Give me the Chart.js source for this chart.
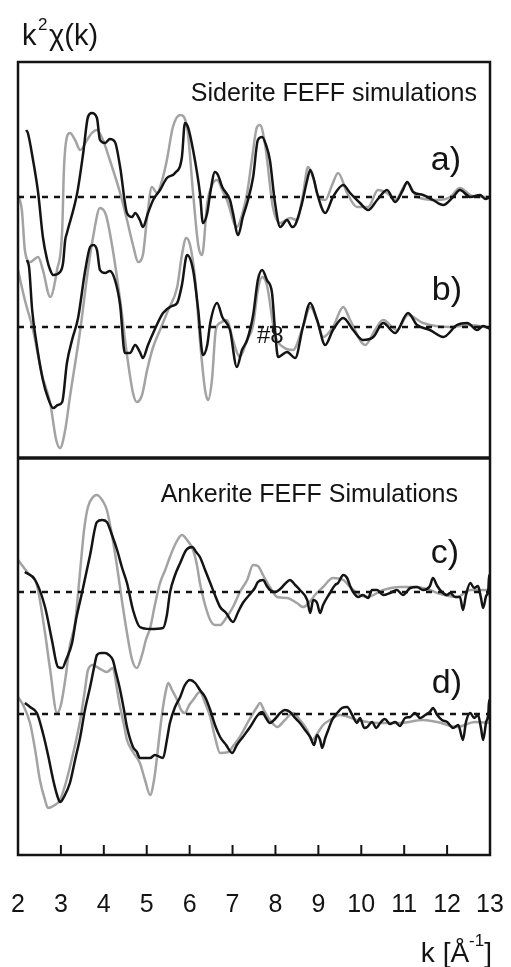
<!DOCTYPE html>
<html><head><meta charset="utf-8">
<script src="https://cdn.jsdelivr.net/npm/chart.js@4.4.1/dist/chart.umd.min.js"></script>
<style>html,body{margin:0;padding:0;background:#fff;}#wrap{width:511px;height:967px;position:relative;}</style>
</head><body><div id="wrap"><canvas id="c"></canvas></div>
<script>
// ---- axis ----
const kMin = 2, kMax = 13;
const kTicks = [2,3,4,5,6,7,8,9,10,11,12,13];
const tickLabels = ['2','3','4','5','6','7','8','9','10','11','12','13'];
// vertical offsets of each stacked spectrum (arbitrary units)
const yMax = 79.3;
const offsetA = 65.8, offsetB = 52.8, offsetC = 26.3, offsetD = 14.1;
const panelDivider = 39.7;

// ---- a) Siderite: black (data) ----
const kA_black = [2.19,2.23,2.35,2.47,2.58,2.68,2.75,2.82,2.98,3.05,3.10,3.14,3.38,3.52,3.63,3.72,3.84,3.91,4.03,4.14,4.26,4.38,4.54,4.66,4.73,4.84,4.91,5.03,5.15,5.31,5.47,5.66,5.82,5.89,5.96,6.08,6.24,6.31,6.41,6.48,6.59,6.66,6.76,6.94,7.01,7.13,7.24,7.36,7.48,7.59,7.69,7.78,7.87,7.99,8.11,8.27,8.39,8.46,8.62,8.74,8.81,8.90,8.97,9.16,9.34,9.58,9.74,9.97,10.16,10.37,10.60,10.79,10.97,11.07,11.21,11.44,11.67,11.91,12.14,12.30,12.54,12.77,12.89,13.00];
const chiA_black = [6.7,6.4,3.7,0.4,-4.0,-6.3,-7.3,-7.8,-7.5,-6.6,-4.3,-3.6,0.4,4.4,8.0,8.4,7.9,5.7,5.4,5.8,5.5,3.0,-1.6,-2.0,-1.6,-2.3,-3.0,-1.6,-0.3,0.7,1.9,2.4,4.0,7.4,7.0,4.7,0.4,-2.6,-1.6,0.4,2.5,2.2,1.0,-0.3,-1.6,-3.8,-2.0,-0.3,2.0,5.7,6.0,5.2,3.7,-0.6,-3.0,-2.3,-3.0,-2.8,-0.6,1.7,2.7,1.7,0.4,-1.6,0.0,1.2,0.4,-0.6,-1.3,-0.3,0.7,-0.5,0.7,1.5,0.5,0.2,-0.3,-0.8,0.0,0.7,0.0,0.2,-0.2,0.0];
// ---- a) Siderite: gray (simulation) ----
const kA_gray = [2.00,2.09,2.16,2.28,2.47,2.58,2.75,2.91,3.03,3.07,3.14,3.21,3.33,3.45,3.61,3.72,3.84,3.98,4.14,4.38,4.54,4.68,4.80,4.91,5.01,5.12,5.24,5.36,5.47,5.61,5.78,5.94,6.08,6.20,6.29,6.41,6.52,6.64,6.76,6.87,7.10,7.22,7.34,7.45,7.57,7.64,7.76,7.94,8.11,8.34,8.50,8.64,8.76,8.88,9.00,9.16,9.32,9.46,9.67,9.90,10.16,10.39,10.60,10.79,11.07,11.30,11.77,12.07,12.30,12.58,13.00];
const chiA_gray = [0.2,-1.3,-5.3,-6.5,-6.0,-7.3,-10.0,-7.3,-3.3,2.7,6.0,6.4,5.7,4.7,5.7,6.4,6.7,5.7,3.7,0.4,-2.3,-4.8,-6.5,-5.8,-2.0,1.0,0.4,1.7,3.7,7.0,8.2,7.0,0.4,-4.8,-5.8,-0.6,1.2,1.7,0.7,-0.3,-3.0,-1.8,0.4,3.7,7.0,7.2,5.2,-1.0,-2.6,-2.1,-2.3,0.2,3.0,1.9,0.0,-0.3,1.2,2.4,0.4,-1.0,-1.0,0.7,0.4,-0.3,1.4,0.0,-0.3,0.0,0.9,0.1,0.0];

// ---- b) Siderite ----
const kB_black = [2.21,2.26,2.33,2.42,2.58,2.70,2.82,2.93,3.03,3.14,3.26,3.40,3.56,3.68,3.75,3.84,3.91,4.03,4.14,4.26,4.38,4.49,4.61,4.73,4.84,4.91,5.03,5.15,5.38,5.59,5.71,5.82,5.94,6.08,6.20,6.31,6.41,6.48,6.64,6.76,6.94,7.10,7.22,7.34,7.48,7.59,7.69,7.80,7.92,7.99,8.06,8.27,8.46,8.64,8.81,8.97,9.16,9.34,9.58,9.81,10.04,10.28,10.51,10.79,11.09,11.30,11.60,11.91,12.23,12.47,12.70,12.84,13.00];
const chiB_black = [6.7,5.9,1.7,-1.3,-5.3,-7.1,-8.1,-7.8,-7.5,-3.6,-1.3,0.9,5.5,8.0,8.2,7.7,5.7,5.4,5.6,4.7,2.2,-2.6,-2.6,-1.8,-2.5,-3.1,-1.8,-0.6,1.4,2.1,2.4,4.2,7.2,5.7,1.7,-2.8,-1.8,0.4,2.4,1.0,-0.3,-4.0,-2.3,-1.3,1.2,4.7,5.7,4.7,3.4,-0.3,-3.0,-2.5,-3.1,0.0,2.4,0.7,-1.8,-0.3,0.9,-0.3,-1.3,-1.0,0.4,-0.6,1.4,0.2,-0.3,-1.0,0.2,0.4,-0.3,0.1,-0.2];
const kB_gray = [2.00,2.16,2.35,2.56,2.75,2.89,2.98,3.10,3.21,3.45,3.63,3.75,3.91,4.05,4.21,4.38,4.54,4.68,4.77,4.89,5.01,5.15,5.31,5.50,5.71,5.82,5.92,6.01,6.13,6.24,6.36,6.43,6.52,6.61,6.71,6.87,7.01,7.17,7.34,7.48,7.59,7.69,7.80,7.99,8.18,8.41,8.64,8.81,8.97,9.11,9.34,9.58,9.74,10.09,10.32,10.51,10.83,11.09,11.44,12.07,12.54,13.00];
const chiB_gray = [5.7,2.7,-0.3,-4.8,-7.6,-11.3,-12.1,-10.3,-7.0,-0.3,5.7,9.0,11.9,11.2,7.7,2.7,-2.8,-6.6,-7.5,-6.8,-4.3,-2.0,-0.3,1.7,4.0,7.2,8.9,8.2,4.7,-1.3,-6.3,-7.3,-5.3,-0.3,0.4,0.7,-1.3,-3.0,-1.3,0.2,3.7,5.0,4.2,-0.8,-2.0,-2.3,0.0,2.0,0.7,-1.0,0.0,2.0,0.7,-1.8,-0.3,0.7,-0.3,1.2,0.4,0.0,0.2,-0.1];

// ---- c) Ankerite ----
const kC_black = [2.16,2.40,2.63,2.79,2.93,3.03,3.12,3.26,3.35,3.49,3.68,3.84,3.96,4.07,4.19,4.31,4.42,4.54,4.68,4.84,5.08,5.38,5.47,5.54,5.66,5.78,5.92,6.06,6.15,6.24,6.36,6.48,6.59,6.71,6.85,7.01,7.13,7.24,7.41,7.52,7.59,7.71,7.80,7.87,7.99,8.11,8.22,8.34,8.46,8.57,8.74,8.81,8.88,8.97,9.04,9.11,9.27,9.39,9.46,9.58,9.67,9.74,9.81,9.93,10.04,10.16,10.25,10.37,10.51,10.67,10.83,10.97,11.14,11.30,11.44,11.60,11.67,11.77,11.88,12.00,12.07,12.19,12.30,12.37,12.44,12.54,12.63,12.72,12.79,12.84,12.91,12.96,12.98,13.00];
const chiC_black = [2.0,1.2,-1.5,-4.8,-7.5,-7.6,-6.8,-5.1,-2.8,-0.1,3.7,7.0,7.2,7.0,5.7,4.2,2.5,0.9,-1.8,-3.5,-3.7,-3.6,-2.3,-0.1,1.7,2.9,4.2,4.5,4.0,3.5,2.2,0.9,-0.3,-1.5,-2.1,-3.0,-2.0,-1.1,-0.2,0.4,1.0,1.2,0.6,0.2,0.0,0.3,0.8,1.2,0.7,0.2,-0.8,-2.1,-0.8,-1.1,-2.1,-1.3,-0.1,0.7,0.9,1.7,1.4,0.6,0.0,-0.5,-0.3,-0.6,0.2,0.2,-0.3,-0.1,0.2,-0.3,0.4,0.5,0.2,0.6,1.4,0.6,0.0,-0.3,-0.1,-0.5,-0.5,-1.8,-0.3,0.9,0.4,0.6,-0.6,-1.6,-0.4,0.2,1.7,-0.5];
const kC_gray = [2.00,2.23,2.44,2.63,2.75,2.91,3.00,3.10,3.21,3.33,3.45,3.54,3.63,3.75,3.84,3.96,4.07,4.19,4.31,4.42,4.54,4.66,4.77,4.89,4.98,5.08,5.19,5.31,5.43,5.54,5.68,5.82,5.94,6.08,6.17,6.24,6.36,6.48,6.59,6.71,6.85,7.01,7.17,7.34,7.48,7.59,7.71,7.87,8.04,8.27,8.50,8.64,8.76,8.92,9.11,9.34,9.58,9.74,9.90,10.14,10.51,10.90,11.30,11.60,11.77,12.23,12.54,12.77,13.00];
const chiC_gray = [3.2,1.9,0.7,-4.1,-7.8,-12.1,-11.3,-8.8,-5.3,-3.1,2.2,6.2,8.5,9.5,9.7,9.2,8.2,5.7,2.5,-0.8,-4.1,-6.8,-7.6,-6.3,-4.8,-3.6,-1.3,0.9,2.2,3.5,4.9,5.7,5.2,4.2,2.7,0.9,-1.3,-2.8,-3.3,-3.3,-2.6,-1.5,0.0,1.2,2.7,2.6,1.7,0.5,-0.5,-0.6,-1.1,-1.5,-1.2,-0.3,0.5,1.4,1.2,0.5,-0.1,-0.5,0.2,0.5,0.5,0.2,-0.1,-0.5,0.2,0.2,0.2];

// ---- d) Ankerite ----
const kD_black = [2.16,2.28,2.44,2.58,2.70,2.82,2.91,2.98,3.07,3.21,3.33,3.45,3.56,3.68,3.77,3.84,3.93,4.03,4.12,4.21,4.28,4.38,4.47,4.54,4.68,4.77,4.84,5.08,5.19,5.38,5.47,5.54,5.66,5.78,5.89,6.01,6.13,6.24,6.36,6.48,6.59,6.71,6.85,6.99,7.10,7.24,7.41,7.59,7.69,7.78,7.87,7.99,8.11,8.22,8.34,8.46,8.57,8.69,8.81,8.90,8.97,9.04,9.09,9.16,9.23,9.32,9.44,9.55,9.67,9.79,9.90,9.97,10.07,10.14,10.25,10.35,10.44,10.55,10.67,10.79,10.90,11.02,11.14,11.25,11.37,11.49,11.60,11.67,11.77,11.88,12.00,12.14,12.26,12.37,12.44,12.54,12.63,12.72,12.79,12.84,12.91,12.96,12.98,13.00];
const chiD_black = [1.1,0.7,0.1,-1.9,-4.1,-6.6,-8.1,-8.8,-8.3,-6.9,-4.6,-2.3,0.4,2.7,4.6,5.9,6.1,6.1,5.9,5.4,4.2,2.4,0.4,-1.3,-3.3,-3.8,-4.4,-4.4,-4.1,-4.4,-2.6,-0.9,0.7,1.7,2.9,3.4,3.1,2.4,1.7,0.4,-1.1,-2.3,-3.1,-3.9,-3.1,-2.3,-1.3,-0.1,0.2,-0.4,-0.9,-0.5,0.1,0.4,0.2,-0.4,-0.9,-1.6,-2.3,-3.1,-2.1,-2.6,-3.4,-2.4,-1.6,-0.6,0.1,0.6,0.7,-0.1,-0.9,-0.4,-1.4,-1.3,-0.8,-1.4,-0.9,-0.5,-1.0,-0.8,-1.2,-0.4,-0.3,0.1,-0.4,-0.1,0.2,0.6,-0.1,-0.6,-0.8,-1.4,-1.1,-2.6,-0.8,0.1,-0.4,-0.1,-1.4,-2.6,-0.8,0.0,1.4,-0.8];
const kD_gray = [2.00,2.12,2.28,2.40,2.51,2.63,2.70,2.82,2.98,3.10,3.21,3.33,3.45,3.56,3.63,3.75,3.84,3.96,4.07,4.21,4.31,4.38,4.47,4.54,4.68,4.84,4.96,5.08,5.17,5.24,5.31,5.38,5.45,5.50,5.59,5.71,5.80,5.89,5.99,6.08,6.24,6.36,6.48,6.59,6.71,6.90,7.03,7.17,7.36,7.57,7.64,7.73,7.87,8.04,8.22,8.41,8.57,8.74,8.85,9.00,9.11,9.27,9.51,9.90,10.37,10.90,11.44,11.77,12.23,12.65,13.00];
const chiD_gray = [1.7,0.9,-0.9,-3.6,-6.6,-8.6,-9.4,-9.2,-8.6,-7.1,-5.3,-3.1,-0.6,2.4,4.4,4.9,4.7,4.4,4.2,4.6,2.4,0.7,-1.1,-2.6,-3.8,-4.9,-6.6,-8.1,-6.6,-4.3,-1.6,0.7,2.4,3.1,2.4,1.4,0.4,0.1,0.9,1.4,2.2,1.1,-0.3,-2.3,-3.9,-3.8,-3.1,-2.3,-0.8,0.7,1.1,0.4,-0.6,-1.3,-0.6,0.1,-0.6,-1.6,-2.6,-1.8,-1.1,-0.6,-0.1,-0.6,-0.9,-0.9,-0.6,-0.8,-1.3,-0.8,-0.9];

// ---- build datasets ----
function pts(ks, vals, off){
  const n = Math.min(ks.length, vals.length);
  const out = [];
  for (let i = 0; i < n; i++) out.push({x: ks[i], y: off + vals[i]});
  return out;
}
const BLACK = '#141414', GRAY = '#a3a3a3';
function curve(data, color, order){
  return {data, borderColor: color, borderWidth: 2.5, pointRadius: 0, fill: false,
          cubicInterpolationMode: 'monotone', order};
}
function baseline(off){
  return {data: [{x: kMin, y: off}, {x: kMax, y: off}], borderColor: BLACK, borderWidth: 2.5,
          borderDash: [6, 6], pointRadius: 0, fill: false, order: 2};
}
const datasets = [
  curve(pts(kA_black, chiA_black, offsetA), BLACK, 1),
  curve(pts(kB_black, chiB_black, offsetB), BLACK, 1),
  curve(pts(kC_black, chiC_black, offsetC), BLACK, 1),
  curve(pts(kD_black, chiD_black, offsetD), BLACK, 1),
  baseline(offsetA), baseline(offsetB), baseline(offsetC), baseline(offsetD),
  curve(pts(kA_gray, chiA_gray, offsetA), GRAY, 3),
  curve(pts(kB_gray, chiB_gray, offsetB), GRAY, 3),
  curve(pts(kC_gray, chiC_gray, offsetC), GRAY, 3),
  curve(pts(kD_gray, chiD_gray, offsetD), GRAY, 3)
];

const FONT = "'Liberation Sans', Arial, sans-serif";
const framePlugin = {
  id: 'frame',
  afterDraw(chart){
    const {ctx, chartArea: a, scales: {x, y}} = chart;
    ctx.save();
    ctx.strokeStyle = BLACK;
    ctx.lineWidth = 2.5;
    ctx.strokeRect(a.left, a.top, a.right - a.left, a.bottom - a.top);
    ctx.lineWidth = 3.5;
    const yd = y.getPixelForValue(panelDivider);
    ctx.beginPath(); ctx.moveTo(a.left, yd); ctx.lineTo(a.right, yd); ctx.stroke();
    ctx.lineWidth = 2;
    kTicks.forEach(k => {
      if (k <= kMin || k >= kMax) return;
      const px = x.getPixelForValue(k);
      ctx.beginPath(); ctx.moveTo(px, a.bottom); ctx.lineTo(px, a.bottom - 10); ctx.stroke();
    });
    ctx.fillStyle = '#141414';
    ctx.textBaseline = 'alphabetic';
    // panel titles
    ctx.font = '25px ' + FONT; ctx.textAlign = 'right';
    ctx.fillText('Siderite FEFF simulations', 477, 101);
    ctx.fillText('Ankerite FEFF Simulations', 458, 502);
    // curve labels
    ctx.font = '34px ' + FONT;
    ctx.fillText('a)', 461, 170);
    ctx.fillText('b)', 462, 300);
    ctx.fillText('c)', 459, 563);
    ctx.fillText('d)', 462, 693);
    ctx.textAlign = 'left';
    ctx.font = '24px ' + FONT;
    ctx.fillText('#8', 257, 343);
    // y title k²χ(k)
    ctx.font = '29px ' + FONT;
    ctx.fillText('k', 22, 45);
    ctx.font = '17px ' + FONT;
    ctx.fillText('2', 38, 30);
    ctx.font = '29px ' + FONT;
    ctx.fillText('\u03C7(k)', 49, 45);
    // x title k [Å-1], right edge at ~492
    ctx.font = '28px ' + FONT;
    const wa = ctx.measureText('k [\u00C5').width;
    const wc = ctx.measureText(']').width;
    ctx.font = '17px ' + FONT;
    const wb = ctx.measureText('-1').width;
    const x0 = 492 - (wa + wb + wc);
    ctx.font = '28px ' + FONT;
    ctx.fillText('k [\u00C5', x0, 962);
    ctx.font = '17px ' + FONT;
    ctx.fillText('-1', x0 + wa, 946);
    ctx.font = '28px ' + FONT;
    ctx.fillText(']', x0 + wa + wb, 962);
    ctx.restore();
  }
};

new Chart(document.getElementById('c'), {
  type: 'line',
  data: {datasets},
  options: {
    animation: false, responsive: true, maintainAspectRatio: false, devicePixelRatio: 1,
    layout: {padding: {left: 18, right: 21, top: 62, bottom: 44}},
    plugins: {legend: {display: false}, tooltip: {enabled: false}},
    scales: {
      x: {type: 'linear', min: kMin, max: kMax,
          afterBuildTicks: s => { s.ticks = kTicks.map(v => ({value: v})); },
          ticks: {autoSkip: false, maxRotation: 0, padding: 3, color: '#141414',
                  font: {family: FONT, size: 25},
                  callback: (v) => tickLabels[kTicks.indexOf(v)]},
          grid: {display: true, drawOnChartArea: false, drawTicks: true, tickLength: 32,
                 color: 'rgba(0,0,0,0)'},
          border: {display: false}},
      y: {type: 'linear', min: 0, max: yMax, display: false}
    }
  },
  plugins: [framePlugin]
});
</script></body></html>
